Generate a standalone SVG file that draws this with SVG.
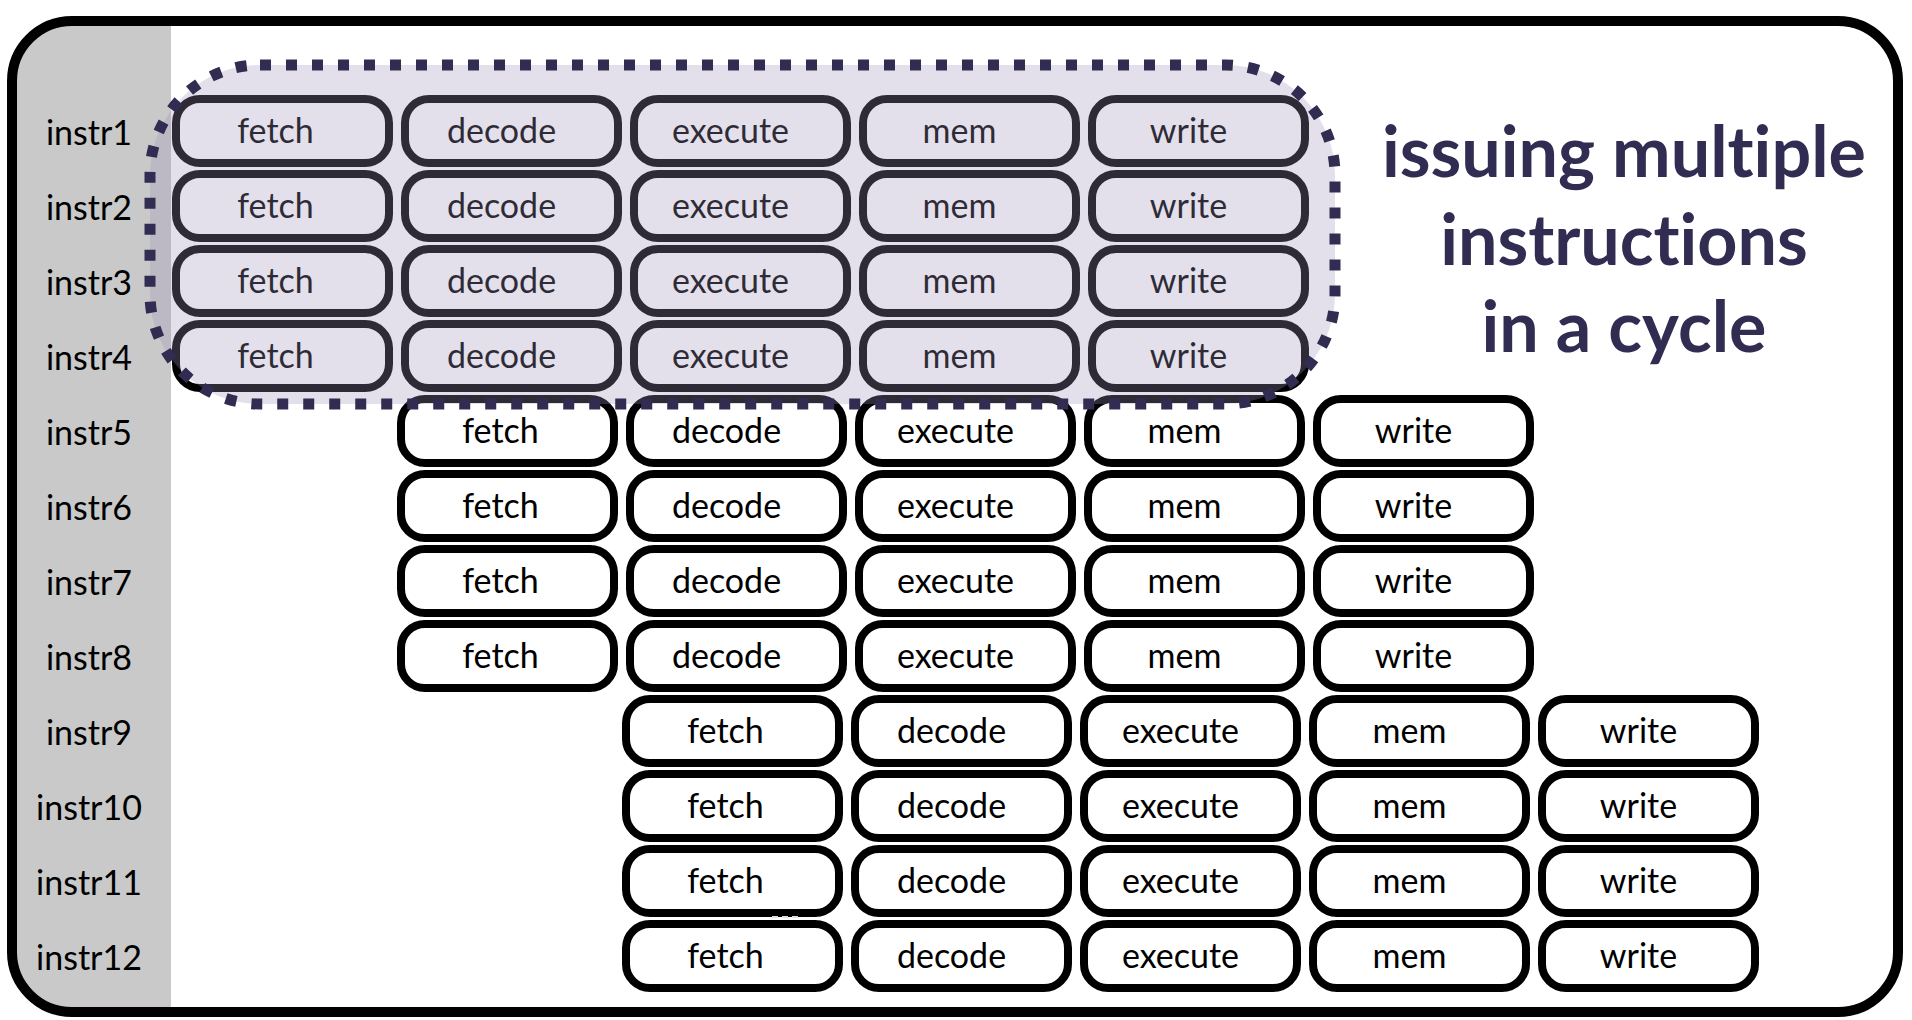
<svg xmlns="http://www.w3.org/2000/svg" width="1912" height="1020" viewBox="0 0 1912 1020">
<defs>
<style>
.box{fill:#fff;stroke:#000;stroke-width:8}
.t{font-family:Lato,"Open Sans","Liberation Sans",sans-serif;font-size:34px;fill:#000;text-anchor:middle;font-variant-ligatures:none}
.title{font-family:Lato,"Open Sans","Liberation Sans",sans-serif;font-weight:700;font-size:70px;fill:#312c51;text-anchor:middle;font-variant-ligatures:none}
</style>
<clipPath id="frameClip"><rect x="12" y="21" width="1886" height="991" rx="60"/></clipPath>
</defs>
<rect x="0" y="0" width="1912" height="1020" fill="#fff"/>
<g id="frame">
<rect x="12" y="21" width="1886" height="991" rx="60" fill="#fff"/>
<rect x="0" y="0" width="171" height="1020" fill="#c9c9c9" clip-path="url(#frameClip)"/>
<rect x="12" y="21" width="1886" height="991" rx="60" fill="none" stroke="#000" stroke-width="10"/>
</g>
<g id="row-labels">
<text class="t" x="89" y="145">instr1</text>
<text class="t" x="89" y="220">instr2</text>
<text class="t" x="89" y="295">instr3</text>
<text class="t" x="89" y="370">instr4</text>
<text class="t" x="89" y="445">instr5</text>
<text class="t" x="89" y="520">instr6</text>
<text class="t" x="89" y="595">instr7</text>
<text class="t" x="89" y="670">instr8</text>
<text class="t" x="89" y="745">instr9</text>
<text class="t" x="89" y="820">instr10</text>
<text class="t" x="89" y="895">instr11</text>
<text class="t" x="89" y="970">instr12</text>
</g>
<g id="nodes">
<g id="i1-fetch"><rect class="box" x="176" y="99" width="213" height="64" rx="24"/><text class="t" x="275.5" y="143">fetch</text></g>
<g id="i1-decode"><rect class="box" x="405" y="99" width="213" height="64" rx="24"/><text class="t" x="501.5" y="143">decode</text></g>
<g id="i1-execute"><rect class="box" x="634" y="99" width="213" height="64" rx="24"/><text class="t" x="730.5" y="143">execute</text></g>
<g id="i1-mem"><rect class="box" x="863" y="99" width="213" height="64" rx="24"/><text class="t" x="959.5" y="143">mem</text></g>
<g id="i1-write"><rect class="box" x="1092" y="99" width="213" height="64" rx="24"/><text class="t" x="1188.5" y="143">write</text></g>

<g id="i2-fetch"><rect class="box" x="176" y="174" width="213" height="64" rx="24"/><text class="t" x="275.5" y="218">fetch</text></g>
<g id="i2-decode"><rect class="box" x="405" y="174" width="213" height="64" rx="24"/><text class="t" x="501.5" y="218">decode</text></g>
<g id="i2-execute"><rect class="box" x="634" y="174" width="213" height="64" rx="24"/><text class="t" x="730.5" y="218">execute</text></g>
<g id="i2-mem"><rect class="box" x="863" y="174" width="213" height="64" rx="24"/><text class="t" x="959.5" y="218">mem</text></g>
<g id="i2-write"><rect class="box" x="1092" y="174" width="213" height="64" rx="24"/><text class="t" x="1188.5" y="218">write</text></g>

<g id="i3-fetch"><rect class="box" x="176" y="249" width="213" height="64" rx="24"/><text class="t" x="275.5" y="293">fetch</text></g>
<g id="i3-decode"><rect class="box" x="405" y="249" width="213" height="64" rx="24"/><text class="t" x="501.5" y="293">decode</text></g>
<g id="i3-execute"><rect class="box" x="634" y="249" width="213" height="64" rx="24"/><text class="t" x="730.5" y="293">execute</text></g>
<g id="i3-mem"><rect class="box" x="863" y="249" width="213" height="64" rx="24"/><text class="t" x="959.5" y="293">mem</text></g>
<g id="i3-write"><rect class="box" x="1092" y="249" width="213" height="64" rx="24"/><text class="t" x="1188.5" y="293">write</text></g>

<g id="i4-fetch"><rect class="box" x="176" y="324" width="213" height="64" rx="24"/><text class="t" x="275.5" y="368">fetch</text></g>
<g id="i4-decode"><rect class="box" x="405" y="324" width="213" height="64" rx="24"/><text class="t" x="501.5" y="368">decode</text></g>
<g id="i4-execute"><rect class="box" x="634" y="324" width="213" height="64" rx="24"/><text class="t" x="730.5" y="368">execute</text></g>
<g id="i4-mem"><rect class="box" x="863" y="324" width="213" height="64" rx="24"/><text class="t" x="959.5" y="368">mem</text></g>
<g id="i4-write"><rect class="box" x="1092" y="324" width="213" height="64" rx="24"/><text class="t" x="1188.5" y="368">write</text></g>

<g id="i5-fetch"><rect class="box" x="401" y="399" width="213" height="64" rx="24"/><text class="t" x="500.5" y="443">fetch</text></g>
<g id="i5-decode"><rect class="box" x="630" y="399" width="213" height="64" rx="24"/><text class="t" x="726.5" y="443">decode</text></g>
<g id="i5-execute"><rect class="box" x="859" y="399" width="213" height="64" rx="24"/><text class="t" x="955.5" y="443">execute</text></g>
<g id="i5-mem"><rect class="box" x="1088" y="399" width="213" height="64" rx="24"/><text class="t" x="1184.5" y="443">mem</text></g>
<g id="i5-write"><rect class="box" x="1317" y="399" width="213" height="64" rx="24"/><text class="t" x="1413.5" y="443">write</text></g>

<g id="i6-fetch"><rect class="box" x="401" y="474" width="213" height="64" rx="24"/><text class="t" x="500.5" y="518">fetch</text></g>
<g id="i6-decode"><rect class="box" x="630" y="474" width="213" height="64" rx="24"/><text class="t" x="726.5" y="518">decode</text></g>
<g id="i6-execute"><rect class="box" x="859" y="474" width="213" height="64" rx="24"/><text class="t" x="955.5" y="518">execute</text></g>
<g id="i6-mem"><rect class="box" x="1088" y="474" width="213" height="64" rx="24"/><text class="t" x="1184.5" y="518">mem</text></g>
<g id="i6-write"><rect class="box" x="1317" y="474" width="213" height="64" rx="24"/><text class="t" x="1413.5" y="518">write</text></g>

<g id="i7-fetch"><rect class="box" x="401" y="549" width="213" height="64" rx="24"/><text class="t" x="500.5" y="593">fetch</text></g>
<g id="i7-decode"><rect class="box" x="630" y="549" width="213" height="64" rx="24"/><text class="t" x="726.5" y="593">decode</text></g>
<g id="i7-execute"><rect class="box" x="859" y="549" width="213" height="64" rx="24"/><text class="t" x="955.5" y="593">execute</text></g>
<g id="i7-mem"><rect class="box" x="1088" y="549" width="213" height="64" rx="24"/><text class="t" x="1184.5" y="593">mem</text></g>
<g id="i7-write"><rect class="box" x="1317" y="549" width="213" height="64" rx="24"/><text class="t" x="1413.5" y="593">write</text></g>

<g id="i8-fetch"><rect class="box" x="401" y="624" width="213" height="64" rx="24"/><text class="t" x="500.5" y="668">fetch</text></g>
<g id="i8-decode"><rect class="box" x="630" y="624" width="213" height="64" rx="24"/><text class="t" x="726.5" y="668">decode</text></g>
<g id="i8-execute"><rect class="box" x="859" y="624" width="213" height="64" rx="24"/><text class="t" x="955.5" y="668">execute</text></g>
<g id="i8-mem"><rect class="box" x="1088" y="624" width="213" height="64" rx="24"/><text class="t" x="1184.5" y="668">mem</text></g>
<g id="i8-write"><rect class="box" x="1317" y="624" width="213" height="64" rx="24"/><text class="t" x="1413.5" y="668">write</text></g>

<g id="i9-fetch"><rect class="box" x="626" y="699" width="213" height="64" rx="24"/><text class="t" x="725.5" y="743">fetch</text></g>
<g id="i9-decode"><rect class="box" x="855" y="699" width="213" height="64" rx="24"/><text class="t" x="951.5" y="743">decode</text></g>
<g id="i9-execute"><rect class="box" x="1084" y="699" width="213" height="64" rx="24"/><text class="t" x="1180.5" y="743">execute</text></g>
<g id="i9-mem"><rect class="box" x="1313" y="699" width="213" height="64" rx="24"/><text class="t" x="1409.5" y="743">mem</text></g>
<g id="i9-write"><rect class="box" x="1542" y="699" width="213" height="64" rx="24"/><text class="t" x="1638.5" y="743">write</text></g>

<g id="i10-fetch"><rect class="box" x="626" y="774" width="213" height="64" rx="24"/><text class="t" x="725.5" y="818">fetch</text></g>
<g id="i10-decode"><rect class="box" x="855" y="774" width="213" height="64" rx="24"/><text class="t" x="951.5" y="818">decode</text></g>
<g id="i10-execute"><rect class="box" x="1084" y="774" width="213" height="64" rx="24"/><text class="t" x="1180.5" y="818">execute</text></g>
<g id="i10-mem"><rect class="box" x="1313" y="774" width="213" height="64" rx="24"/><text class="t" x="1409.5" y="818">mem</text></g>
<g id="i10-write"><rect class="box" x="1542" y="774" width="213" height="64" rx="24"/><text class="t" x="1638.5" y="818">write</text></g>

<g id="i11-fetch"><rect class="box" x="626" y="849" width="213" height="64" rx="24"/><text class="t" x="725.5" y="893">fetch</text></g>
<g id="i11-decode"><rect class="box" x="855" y="849" width="213" height="64" rx="24"/><text class="t" x="951.5" y="893">decode</text></g>
<g id="i11-execute"><rect class="box" x="1084" y="849" width="213" height="64" rx="24"/><text class="t" x="1180.5" y="893">execute</text></g>
<g id="i11-mem"><rect class="box" x="1313" y="849" width="213" height="64" rx="24"/><text class="t" x="1409.5" y="893">mem</text></g>
<g id="i11-write"><rect class="box" x="1542" y="849" width="213" height="64" rx="24"/><text class="t" x="1638.5" y="893">write</text></g>

<g id="i12-fetch"><rect class="box" x="626" y="924" width="213" height="64" rx="24"/><text class="t" x="725.5" y="968">fetch</text></g>
<g id="i12-decode"><rect class="box" x="855" y="924" width="213" height="64" rx="24"/><text class="t" x="951.5" y="968">decode</text></g>
<g id="i12-execute"><rect class="box" x="1084" y="924" width="213" height="64" rx="24"/><text class="t" x="1180.5" y="968">execute</text></g>
<g id="i12-mem"><rect class="box" x="1313" y="924" width="213" height="64" rx="24"/><text class="t" x="1409.5" y="968">mem</text></g>
<g id="i12-write"><rect class="box" x="1542" y="924" width="213" height="64" rx="24"/><text class="t" x="1638.5" y="968">write</text></g>
</g>
<g id="connectors"></g>
<g id="multi-issue-highlight">
<rect x="150" y="65" width="1185" height="339" rx="110" fill="rgb(159,148,186)" fill-opacity="0.29"/>
<rect x="150" y="65" width="1185" height="339" rx="110" fill="none" stroke="#312c51" stroke-width="11" stroke-dasharray="11 15"/>
</g>
<g id="title">
<text class="title" x="1624" y="177">issuing multiple</text>
<text class="title" x="1624" y="265">instructions</text>
<text class="title" x="1624" y="352">in a cycle</text>
</g>
<line x1="772" y1="917" x2="802" y2="917" stroke="#e0e0e0" stroke-width="2" stroke-dasharray="6 4"/>
</svg>
